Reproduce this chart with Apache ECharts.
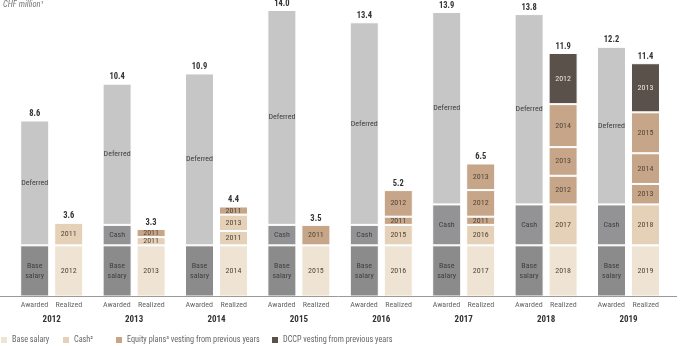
<!DOCTYPE html>
<html>
<head>
<meta charset="utf-8">
<script src="https://cdn.jsdelivr.net/npm/echarts@6/dist/echarts.min.js"></script>
<style>html,body{margin:0;padding:0;background:#fff}#c{width:680px;height:346px}</style>
</head>
<body>
<div id="c"></div>
<script>
// ---- data ----
const years = ['2012','2013','2014','2015','2016','2017','2018','2019'];
const awardedBase = [2.5,2.5,2.5,2.5,2.5,2.5,2.5,2.5];
const awardedCash = [null,1.0,null,1.0,1.0,2.0,2.0,2.0];
const awardedDeferred = [6.1,6.9,8.4,10.5,9.9,9.4,9.3,7.7];
const awardedTotal = [8.6,10.4,10.9,14.0,13.4,13.9,13.8,12.2];

const realizedBase = [2.5,2.5,2.5,2.5,2.5,2.5,2.5,2.5];
const level1Values = [1.1,0.4,0.7,1.0,1.0,1.0,2.0,2.0];
const level1Years  = ['2011','2011','2011','2011','2015','2016','2017','2018'];
const level1Types  = ['cash','cash','cash','equity','cash','cash','cash','cash'];
const level2Values = [null,0.4,0.8,null,0.4,0.4,1.4,1.0];
const level2Years  = ['','2011','2013','','2011','2011','2012','2013'];
const level2Types  = ['','equity','cash','','equity','equity','equity','equity'];
const level3Values = [null,null,0.4,null,1.3,1.3,1.4,1.5];
const level3Years  = ['','','2011','','2012','2012','2013','2014'];
const level3Types  = ['','','equity','','equity','equity','equity','equity'];
const level4Values = [null,null,null,null,null,1.3,2.1,2.0];
const level4Years  = ['','','','','','2013','2014','2015'];
const level4Types  = ['','','','','','equity','equity','equity'];
const level5Values = [null,null,null,null,null,null,2.5,2.4];
const level5Years  = ['','','','','','','2012','2013'];
const level5Types  = ['','','','','','','dccp','dccp'];
const realizedTotal = [3.6,3.3,4.4,3.5,5.2,6.5,11.9,11.4];

const legendNames = ['Base salary','Cash²','Equity plans³ vesting from previous years','DCCP vesting from previous years'];

// ---- styles ----
const FONT = "'Roboto Condensed','DejaVu Sans Condensed',sans-serif";
const C = {
  aBase:'#8b8b8b', aCash:'#939395', aDef:'#c6c6c6',
  base:'#efe4d3', cash:'#e4d1b8', equity:'#c6a588', dccp:'#5a514b'
};
const BW = 29;
const common = {type:'bar', barWidth:BW, barGap:'17.2%', itemStyle:{borderColor:'#fff', borderWidth:1}};

function inLabel(color){
  return {show:true, position:'inside', fontFamily:FONT, fontSize:8, color:color, lineHeight:10};
}

const series = [];
series.push(Object.assign({}, common, {name:'aBase', stack:'a', data:awardedBase,
  itemStyle:{color:C.aBase, borderColor:'#fff', borderWidth:1},
  label:Object.assign(inLabel('#404040'), {formatter:'Base\nsalary'})}));
series.push(Object.assign({}, common, {name:'aCash', stack:'a', data:awardedCash,
  itemStyle:{color:C.aCash, borderColor:'#fff', borderWidth:1},
  label:Object.assign(inLabel('#404040'), {formatter:'Cash'})}));
series.push(Object.assign({}, common, {name:'aDef', stack:'a', data:awardedDeferred,
  itemStyle:{color:C.aDef, borderColor:'#fff', borderWidth:1},
  label:Object.assign(inLabel('#404040'), {formatter:'Deferred'})}));
series.push(Object.assign({}, common, {name:'aTotal', stack:'a', data:awardedTotal.map(()=>0),
  itemStyle:{color:'rgba(0,0,0,0)', borderWidth:0},
  label:{show:true, position:'top', distance:2, fontFamily:FONT, fontSize:8.5, fontWeight:'bold', color:'#333',
    formatter:p=>awardedTotal[p.dataIndex].toFixed(1)}}));

series.push(Object.assign({}, common, {name:'rBase', stack:'r', data:realizedBase,
  itemStyle:{color:C.base, borderColor:'#fff', borderWidth:1},
  label:Object.assign(inLabel('#54463a'), {formatter:p=>years[p.dataIndex]})}));

const levels = [
  [level1Values, level1Years, level1Types],
  [level2Values, level2Years, level2Types],
  [level3Values, level3Years, level3Types],
  [level4Values, level4Years, level4Types],
  [level5Values, level5Years, level5Types]
];
levels.forEach((lv, k) => {
  const [vals, yrs, types] = lv;
  series.push(Object.assign({}, common, {name:'rL'+(k+1), stack:'r',
    data: vals.map((v,i) => v == null ? '-' : {
      value:v,
      itemStyle:{color:C[types[i]]},
      label:{color: types[i]==='dccp' ? '#ece6e0' : '#54463a'}
    }),
    itemStyle:{borderColor:'#fff', borderWidth:1},
    label:Object.assign(inLabel('#54463a'), {formatter:p=>yrs[p.dataIndex]})
  }));
});
series.push(Object.assign({}, common, {name:'rTotal', stack:'r', data:realizedTotal.map(()=>0),
  itemStyle:{color:'rgba(0,0,0,0)', borderWidth:0},
  label:{show:true, position:'top', distance:2, fontFamily:FONT, fontSize:8.5, fontWeight:'bold', color:'#333',
    formatter:p=>realizedTotal[p.dataIndex].toFixed(1)}}));

// legend dummy series
const legendColors = [C.base, C.cash, C.equity, C.dccp];
legendNames.forEach((n,i) => {
  series.push(Object.assign({}, common, {name:n, stack:'r', data:[], itemStyle:{color:legendColors[i]}}));
});

const legendLefts = [1, 63, 116, 272];
const legends = legendNames.map((n,i) => ({
  data:[n], left:legendLefts[i], top:336, itemWidth:6, itemHeight:6, icon:'rect', itemGap:0,
  selectedMode:false, padding:0,
  textStyle:{fontFamily:FONT, fontSize:8.2, color:'#666'}
}));

const chart = echarts.init(document.getElementById('c'), null, {renderer:'canvas'});
chart.setOption({
  animation:false,
  title:{text:'CHF million¹', left:3, top:0, padding:0,
    textStyle:{fontFamily:FONT, fontSize:8.5, fontStyle:'italic', fontWeight:'normal', color:'#777'}},
  legend:legends,
  grid:{left:10.5, right:10.3, top:10, bottom:49.5, containLabel:false},
  xAxis:{type:'category', data:years, axisLine:{show:false}, axisTick:{show:false},
    axisLabel:{margin:2, interval:0,
      formatter:v=>'{a|Awarded}{r|Realized}\n{y|'+v+'}',
      rich:{
        a:{width:34.5, align:'center', fontFamily:FONT, fontSize:8, color:'#666', lineHeight:12},
        r:{width:34.5, align:'center', fontFamily:FONT, fontSize:8, color:'#666', lineHeight:12},
        y:{fontFamily:FONT, fontSize:9, fontWeight:'bold', color:'#333', lineHeight:18}
      }}},
  yAxis:{type:'value', min:0, max:14, show:false},
  graphic:[{type:'line', shape:{x1:0, y1:296.5, x2:677, y2:296.5}, style:{stroke:'#9a9a9a', lineWidth:1}, z:10}],
  series:series
});
</script>
</body>
</html>
